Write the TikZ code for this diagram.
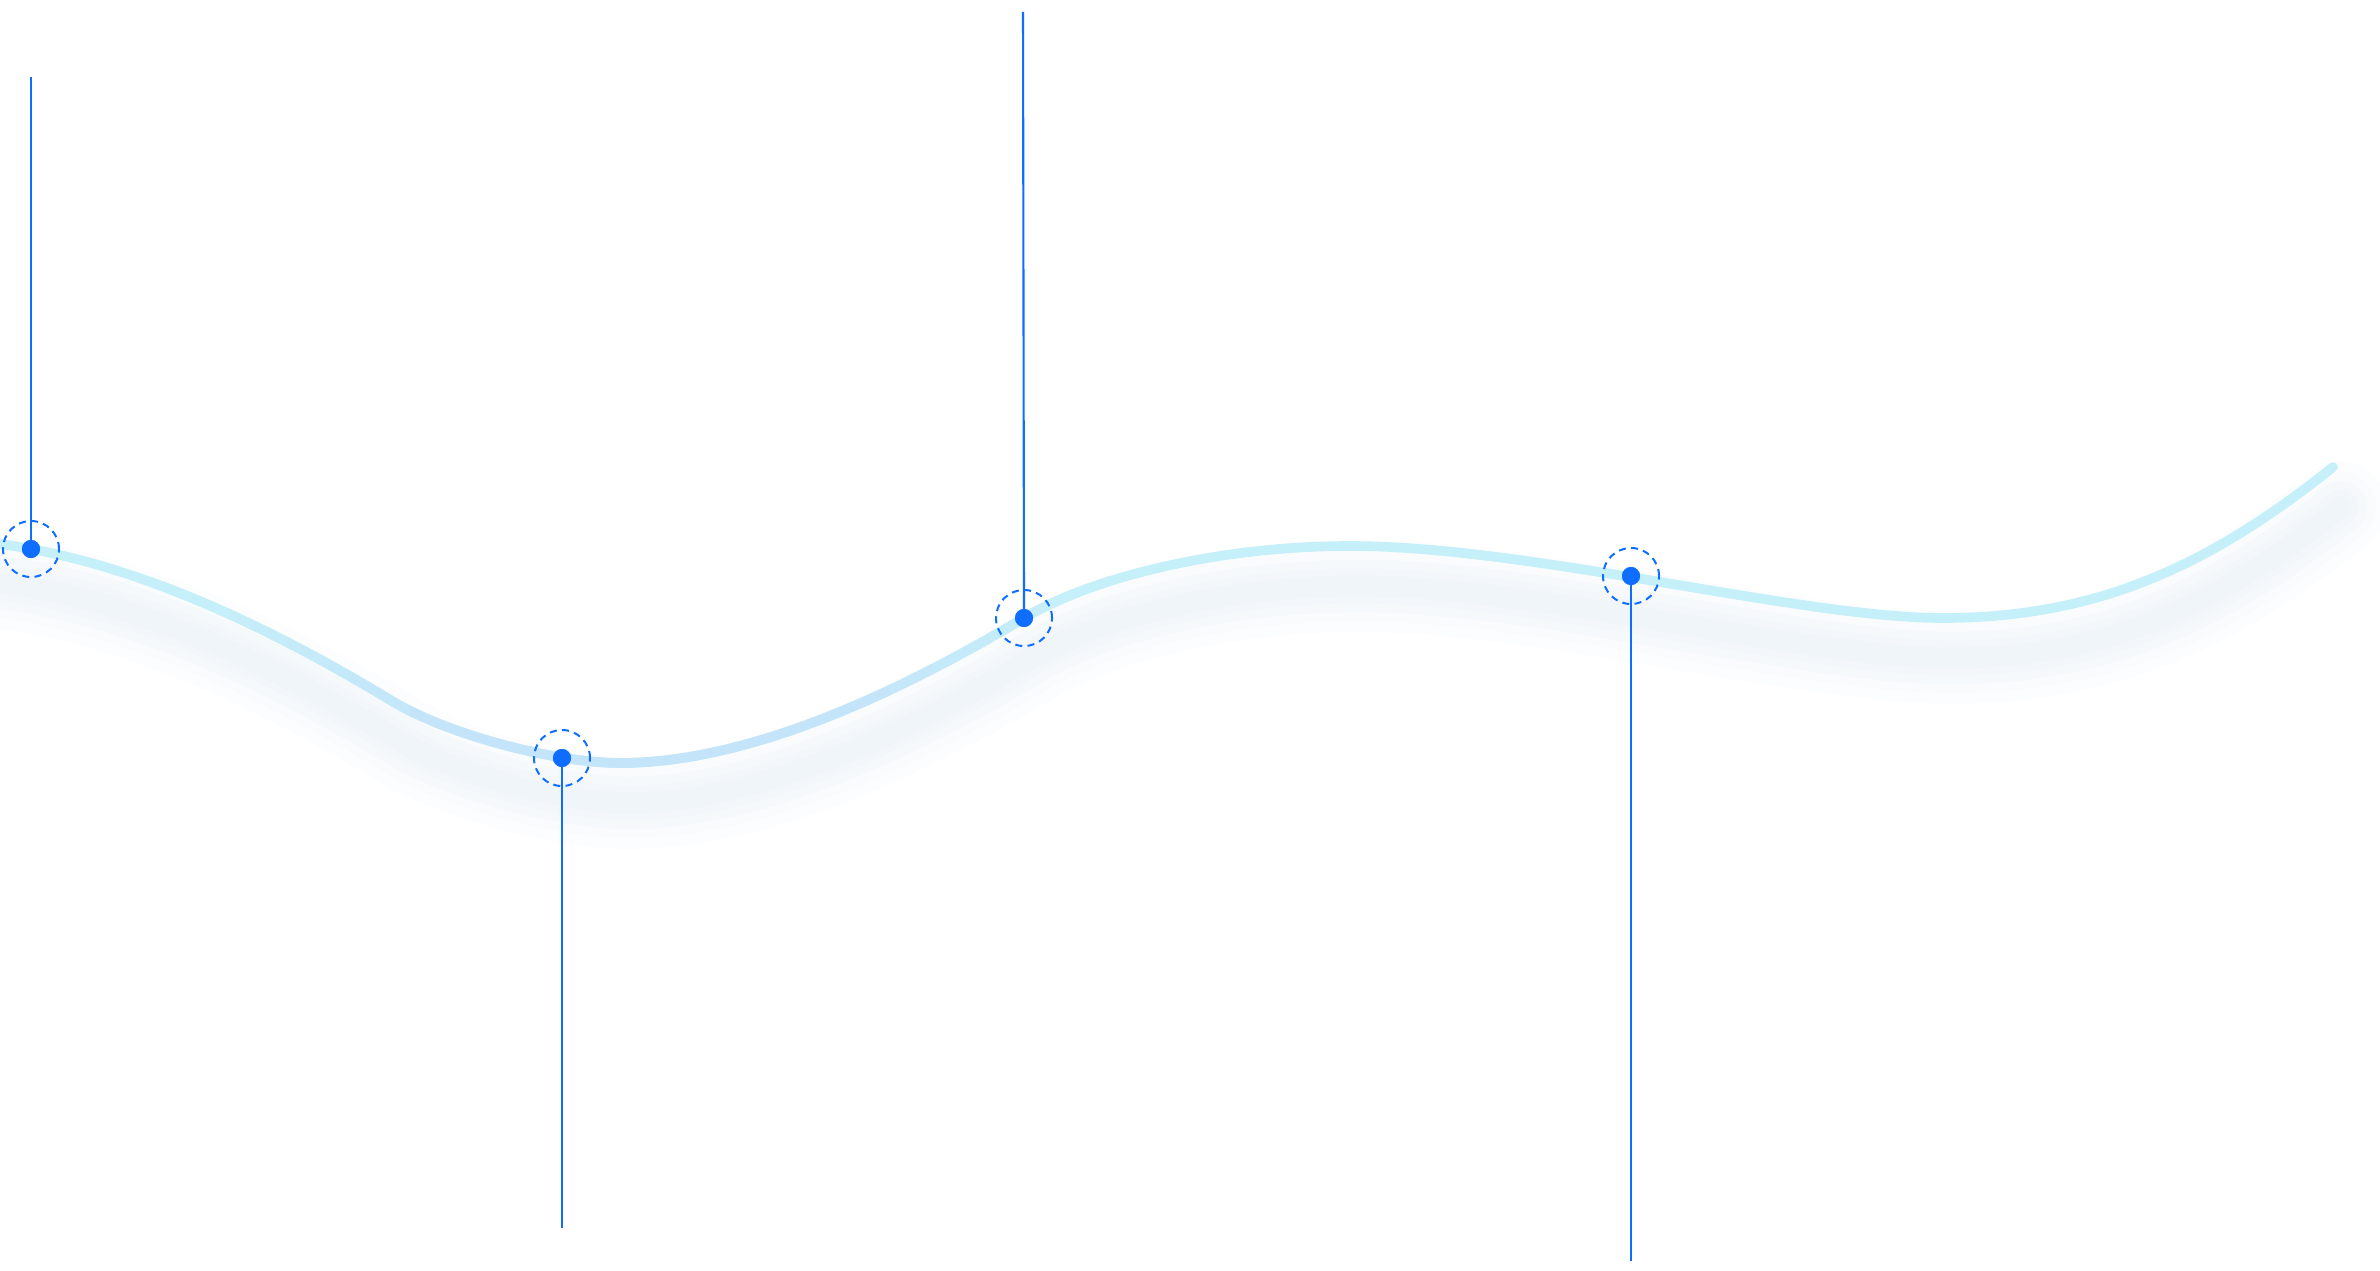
\documentclass[tikz,border=0pt]{standalone}
\definecolor{dotblue}{HTML}{0F6EFF}
\definecolor{curvecyan}{HTML}{C5F0F9}
\definecolor{curveblue}{HTML}{C4E4F9}
\definecolor{shadowblue}{HTML}{2F7FEF}
\newcommand\curvepath{(0,544) .. controls (120,560) and (250,615) .. (392,701) .. controls (452,737) and (560,763) .. (620,763) .. controls (760,763) and (920,680) .. (1024,618) .. controls (1100,573) and (1230,546) .. (1350,546) .. controls (1530,546) and (1800,618) .. (1943,618) .. controls (2100,618) and (2213,563) .. (2333,467)}
\begin{document}
\begin{tikzpicture}[x=0.01cm,y=-0.01cm,
  dotnode/.style={circle,fill=dotblue,inner sep=0pt,minimum size=0.18cm},
  ringnode/.style={circle,draw=dotblue,line width=0.57pt,dash pattern=on 2pt off 1.5pt,inner sep=0pt,minimum size=0.56cm},
  stem/.style={draw=dotblue,line width=0.6pt},
  curve/.style={line width=2.75pt,line cap=round},
  glow/.style={draw=shadowblue,line cap=round,draw opacity=0.011}]
\useasboundingbox[fill=white] (0,0) rectangle (2380,1270);
% soft shadow under the curve
\begin{scope}[shift={(8,40)}]
  \foreach \w in {26,20,15,10,6}{
    \draw[glow,line width=\w pt] \curvepath;
  }
\end{scope}
% curve, cyan with a bluer middle
\draw[curve,curvecyan] \curvepath;
\foreach \xs in {150,170,...,1090}{
  \pgfmathsetmacro\pp{max(0,min(100,min((\xs+10-200)/2.5,(1080-\xs-10)/2.3)))}
  \colorlet{stripc}{curveblue!\pp!curvecyan}
  \begin{scope}
    \clip (\xs-0.5,0) rectangle (\xs+20.5,1270);
    \draw[curve,stripc] \curvepath;
  \end{scope}
}
% markers
\coordinate (t1) at (31,77);
\coordinate (b2) at (562,1228);
\coordinate (t3) at (1023,12);
\coordinate (b4) at (1631,1261);
\node[dotnode] (d1) at (31,549) {};
\node[dotnode] (d2) at (562,758) {};
\node[dotnode] (d3) at (1024,618) {};
\node[dotnode] (d4) at (1631,576) {};
\draw[stem] (d1.center) -- (t1);
\draw[stem] (d2.center) -- (b2);
\draw[stem] (d3.center) -- (t3);
\draw[stem] (d4.center) -- (b4);
\node[ringnode] (r1) at (d1) {};
\node[ringnode] (r2) at (d2) {};
\node[ringnode] (r3) at (d3) {};
\node[ringnode] (r4) at (d4) {};
\node[dotnode] at (d1) {};
\node[dotnode] at (d2) {};
\node[dotnode] at (d3) {};
\node[dotnode] at (d4) {};
\end{tikzpicture}
\end{document}
